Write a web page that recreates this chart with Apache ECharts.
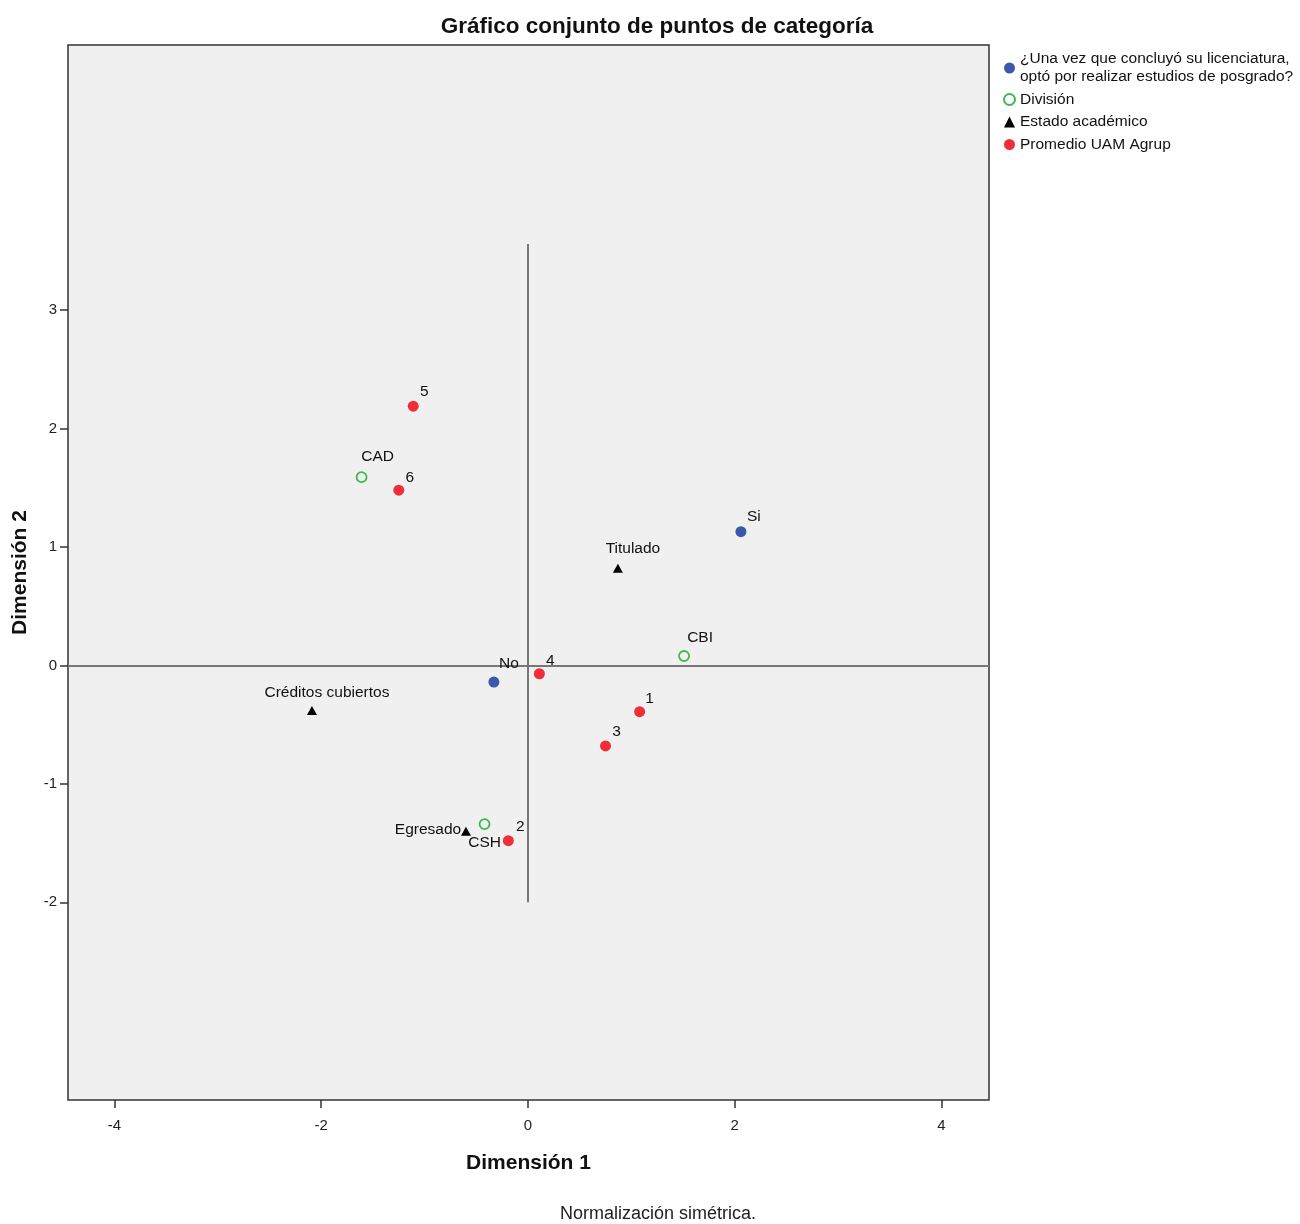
<!DOCTYPE html>
<html>
<head>
<meta charset="utf-8">
<script src="https://cdn.jsdelivr.net/npm/echarts@6/dist/echarts.min.js"></script>
<style>
html,body{margin:0;padding:0;background:#fff;}
#chart{width:1300px;height:1224px;}
</style>
</head>
<body>
<div id="chart"></div>
<script>
// ---- data ----
const seriesNames = [
  '¿Una vez que concluyó su licenciatura,\noptó por realizar estudios de posgrado?',
  'División',
  'Estado académico',
  'Promedio UAM Agrup'
];
const posgradoLabels = ['Si', 'No'];
const posgradoDim1 = [2.06, -0.33];
const posgradoDim2 = [1.13, -0.14];

const divisionLabels = ['CAD', 'CBI', 'CSH'];
const divisionDim1 = [-1.61, 1.51, -0.42];
const divisionDim2 = [1.59, 0.08, -1.34];

const estadoLabels = ['Titulado', 'Créditos cubiertos', 'Egresado'];
const estadoDim1 = [0.87, -2.09, -0.60];
const estadoDim2 = [0.82, -0.38, -1.40];

const promedioLabels = ['1', '2', '3', '4', '5', '6'];
const promedioDim1 = [1.08, -0.19, 0.75, 0.11, -1.11, -1.25];
const promedioDim2 = [-0.39, -1.48, -0.68, -0.07, 2.19, 1.48];

const xTicks = [-4, -2, 0, 2, 4];
const yTicks = [-2, -1, 0, 1, 2, 3];
const xRange = [-4.45, 4.46];
const yRange = [-3.67, 5.24];
const vRefLine = [-2.0, 3.56];   // vertical reference segment at Dimensión 1 = 0

// ---- label placement (style) ----
const labelOffsets = {
  'Si': [13, -15], 'No': [15, -18],
  'CAD': [16, -20], 'CBI': [16, -18], 'CSH': [0, 19],
  'Titulado': [15, -20], 'Créditos cubiertos': [15, -18], 'Egresado': [-38, -1],
  '1': [10, -13], '2': [12, -14], '3': [11, -14], '4': [11, -13], '5': [11, -14], '6': [11, -12]
};

const FONT = 'Liberation Sans, Arial, sans-serif';

function buildData(labels, d1, d2) {
  return labels.map((n, i) => ({
    name: n,
    value: [d1[i], d2[i]],
    label: { offset: labelOffsets[n] || [10, -14] }
  }));
}

const commonLabel = {
  show: true,
  position: 'inside',
  formatter: p => p.name,
  color: '#111',
  fontSize: 15.5,
  fontFamily: FONT,
  align: 'center',
  verticalAlign: 'middle'
};

const chart = echarts.init(document.getElementById('chart'), null, { renderer: 'canvas' });

const option = {
  animation: false,
  backgroundColor: '#ffffff',
  title: {
    text: 'Gráfico conjunto de puntos de categoría',
    left: 657, top: 15, textAlign: 'center', padding: 0,
    textStyle: { fontFamily: FONT, fontSize: 22.5, fontWeight: 'bold', color: '#111' }
  },
  legend: {
    orient: 'vertical',
    left: 1003, top: 50,
    itemWidth: 11, itemHeight: 11,
    itemGap: 4.5,
    padding: 0,
    textStyle: { fontFamily: FONT, fontSize: 15.5, color: '#111', lineHeight: 18 },
    data: seriesNames.map(n => ({ name: n }))
  },
  grid: {
    left: 68, top: 45, width: 921, height: 1055,
    outerBoundsMode: 'none',
    containLabel: false,
    show: true, backgroundColor: '#f0f0f0', borderColor: '#333', borderWidth: 1.5
  },
  xAxis: {
    type: 'value', min: xRange[0], max: xRange[1],
    name: 'Dimensión 1', nameLocation: 'middle', nameGap: 53,
    nameTextStyle: { fontFamily: FONT, fontSize: 21, fontWeight: 'bold', color: '#111' },
    axisLine: { show: false, onZero: false },
    splitLine: { show: false },
    axisTick: { show: true, length: 8, lineStyle: { color: '#333', width: 1.5 }, customValues: xTicks },
    axisLabel: { fontFamily: FONT, fontSize: 15, color: '#222', margin: 18, customValues: xTicks }
  },
  yAxis: {
    type: 'value', min: yRange[0], max: yRange[1],
    name: 'Dimensión 2', nameLocation: 'middle', nameGap: 37, nameRotate: 90,
    nameTextStyle: { fontFamily: FONT, fontSize: 21, fontWeight: 'bold', color: '#111' },
    axisLine: { show: false, onZero: false },
    splitLine: { show: false },
    axisTick: { show: true, length: 8, lineStyle: { color: '#333', width: 1.5 }, customValues: yTicks },
    axisLabel: { fontFamily: FONT, fontSize: 15, color: '#222', margin: 11, customValues: yTicks }
  },
  series: [
    {
      name: seriesNames[0], type: 'scatter', symbol: 'circle', symbolSize: 11,
      itemStyle: { color: '#3c58ab', opacity: 1 },
      label: commonLabel,
      data: buildData(posgradoLabels, posgradoDim1, posgradoDim2),
      z: 5,
      markLine: {
        silent: true, symbol: ['none', 'none'],
        label: { show: false },
        lineStyle: { color: '#777', width: 2, type: 'solid' },
        emphasis: { disabled: true },
        data: [
          { yAxis: 0 },
          [{ coord: [0, vRefLine[0]] }, { coord: [0, vRefLine[1]] }]
        ],
        z: 1
      }
    },
    {
      name: seriesNames[1], type: 'scatter', symbol: 'circle', symbolSize: 10,
      itemStyle: { color: 'rgba(240,240,240,0)', borderColor: '#3cba4f', borderWidth: 1.8, opacity: 1 },
      label: commonLabel,
      data: buildData(divisionLabels, divisionDim1, divisionDim2),
      z: 5
    },
    {
      name: seriesNames[2], type: 'scatter', symbol: 'triangle', symbolSize: [10, 9],
      itemStyle: { color: '#000', opacity: 1 },
      label: commonLabel,
      data: buildData(estadoLabels, estadoDim1, estadoDim2),
      z: 5
    },
    {
      name: seriesNames[3], type: 'scatter', symbol: 'circle', symbolSize: 11,
      itemStyle: { color: '#ee2f3a', opacity: 1 },
      label: commonLabel,
      data: buildData(promedioLabels, promedioDim1, promedioDim2),
      z: 5
    }
  ],
  graphic: [
    {
      type: 'text', x: 658, y: 1214,
      style: { text: 'Normalización simétrica.', fontFamily: FONT, fontSize: 18, fill: '#222', align: 'center', verticalAlign: 'middle' }
    }
  ]
};

chart.setOption(option);
</script>
</body>
</html>
